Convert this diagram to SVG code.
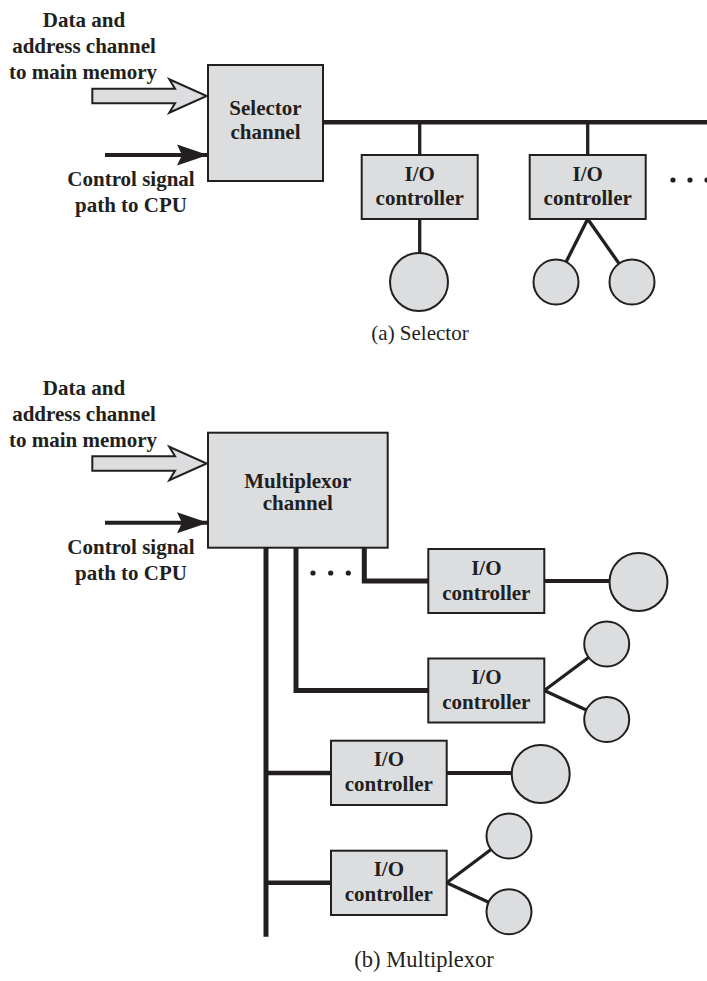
<svg xmlns="http://www.w3.org/2000/svg" width="707" height="981" viewBox="0 0 707 981">
<style>
.box{fill:#dcdddf;stroke:#231f20;stroke-width:2}
.dev{fill:#dcdddf;stroke:#231f20;stroke-width:2}
.t{font-family:"Liberation Serif","Times New Roman",serif;font-weight:bold;font-size:21px;fill:#231f20;text-anchor:middle}
.cap{font-family:"Liberation Serif","Times New Roman",serif;font-size:21px;fill:#231f20;text-anchor:middle}
.thick{stroke:#231f20;stroke-width:4.5;fill:none}
.thin{stroke:#231f20;stroke-width:3.3;fill:none}
.ctl{stroke:#231f20;stroke-width:4;fill:none}
.hollow{fill:#dcdddf;stroke:#231f20;stroke-width:2;stroke-linejoin:miter}
.dot{fill:#231f20}
</style>
<defs>
<marker id="ah" markerUnits="userSpaceOnUse" markerWidth="33" markerHeight="22" refX="32" refY="11" orient="auto">
<path d="M1,0.5 L32,11 L1,21.5 L6,11 Z" fill="#231f20"/>
</marker>
</defs>

<!-- ===== (a) Selector ===== -->
<g id="labels-a">
<text class="t" x="84" y="27">Data and</text>
<text class="t" x="84" y="53">address channel</text>
<text class="t" x="83" y="79">to main memory</text>
<text class="t" x="131" y="186">Control signal</text>
<text class="t" x="131" y="212">path to CPU</text>
</g>

<g id="connectors-a">
<polygon class="hollow" points="92.3,88.8 175,88.8 169.3,79.3 206.7,96 169.3,112.7 175,103.3 92.3,103.3"/>
<line class="ctl" x1="105" y1="155" x2="208" y2="155" marker-end="url(#ah)"/>
<line class="thick" x1="323" y1="122.3" x2="707" y2="122.3"/>
<line class="thin" x1="419.7" y1="122.3" x2="419.7" y2="155"/>
<line class="thin" x1="587.7" y1="122.3" x2="587.7" y2="155"/>
<line class="thin" x1="419.7" y1="219" x2="419.7" y2="260"/>
<line class="thin" x1="587.7" y1="219" x2="556" y2="282"/>
<line class="thin" x1="587.7" y1="219" x2="632" y2="282"/>
<circle class="dot" cx="673" cy="180" r="2.6"/>
<circle class="dot" cx="690" cy="180" r="2.6"/>
<circle class="dot" cx="707" cy="180" r="2.6"/>
</g>

<g id="selector-channel">
<rect class="box" x="208" y="65" width="115" height="116"/>
<text class="t" x="265.5" y="115">Selector</text>
<text class="t" x="265.5" y="139">channel</text>
</g>

<g id="a-io1">
<rect class="box" x="361.7" y="155" width="116" height="64"/>
<text class="t" x="419.7" y="180.7">I/O</text>
<text class="t" x="419.7" y="205">controller</text>
</g>
<g id="a-io2">
<rect class="box" x="529.7" y="155" width="116" height="64"/>
<text class="t" x="587.7" y="180.7">I/O</text>
<text class="t" x="587.7" y="205">controller</text>
</g>
<g id="a-dev1"><circle class="dev" cx="419" cy="282" r="29"/></g>
<g id="a-dev2"><circle class="dev" cx="556" cy="282" r="22.5"/></g>
<g id="a-dev3"><circle class="dev" cx="632" cy="282" r="22.5"/></g>

<text class="cap" x="420" y="340">(a) Selector</text>

<!-- ===== (b) Multiplexor ===== -->
<g id="labels-b">
<text class="t" x="84" y="394.5">Data and</text>
<text class="t" x="84" y="420.5">address channel</text>
<text class="t" x="83" y="446.5">to main memory</text>
<text class="t" x="131" y="553.5">Control signal</text>
<text class="t" x="131" y="579.5">path to CPU</text>
</g>

<g id="connectors-b">
<polygon class="hollow" points="92.3,456.3 175,456.3 169.3,446.8 206.7,463.5 169.3,480.2 175,470.8 92.3,470.8"/>
<line class="ctl" x1="105" y1="522.7" x2="208" y2="522.7" marker-end="url(#ah)"/>
<line class="thick" x1="266" y1="547" x2="266" y2="936.7" style="stroke-width:5"/>
<polyline class="thick" points="296,547 296,690.5 428.3,690.5" style="stroke-width:5"/>
<polyline class="thick" points="364.3,547 364.3,581 428.3,581" style="stroke-width:5"/>
<line class="thick" x1="266" y1="773" x2="331" y2="773"/>
<line class="thick" x1="266" y1="882.8" x2="331" y2="882.8"/>
<line class="thin" x1="544.3" y1="581" x2="610" y2="581" style="stroke-width:3.8"/>
<line class="thin" x1="544.3" y1="690.5" x2="606.7" y2="644"/>
<line class="thin" x1="544.3" y1="690.5" x2="606.7" y2="719.5"/>
<line class="thin" x1="446.7" y1="773" x2="512" y2="773" style="stroke-width:3.8"/>
<line class="thin" x1="446.7" y1="882.8" x2="509" y2="836"/>
<line class="thin" x1="446.7" y1="882.8" x2="509" y2="911.7"/>
<circle class="dot" cx="313" cy="573" r="2.6"/>
<circle class="dot" cx="330.7" cy="573" r="2.6"/>
<circle class="dot" cx="348.3" cy="573" r="2.6"/>
</g>

<g id="multiplexor-channel">
<rect class="box" x="208" y="432.7" width="179.7" height="115"/>
<text class="t" x="297.8" y="488">Multiplexor</text>
<text class="t" x="297.8" y="510">channel</text>
</g>

<g id="b-io1">
<rect class="box" x="428.3" y="549" width="116" height="64"/>
<text class="t" x="486.3" y="574.5">I/O</text>
<text class="t" x="486.3" y="599.5">controller</text>
</g>
<g id="b-io2">
<rect class="box" x="428.3" y="658.5" width="116" height="64"/>
<text class="t" x="486.3" y="684">I/O</text>
<text class="t" x="486.3" y="709">controller</text>
</g>
<g id="b-io3">
<rect class="box" x="331" y="740.7" width="115.7" height="64.3"/>
<text class="t" x="388.8" y="766.3">I/O</text>
<text class="t" x="388.8" y="790.8">controller</text>
</g>
<g id="b-io4">
<rect class="box" x="331" y="850.7" width="115.7" height="64.3"/>
<text class="t" x="388.8" y="876.3">I/O</text>
<text class="t" x="388.8" y="900.8">controller</text>
</g>
<g id="b-dev1"><circle class="dev" cx="638.5" cy="582" r="29"/></g>
<g id="b-dev2"><circle class="dev" cx="606.7" cy="644" r="22.5"/></g>
<g id="b-dev3"><circle class="dev" cx="606.7" cy="719.5" r="22.5"/></g>
<g id="b-dev4"><circle class="dev" cx="540.7" cy="774" r="29"/></g>
<g id="b-dev5"><circle class="dev" cx="509" cy="836" r="22.5"/></g>
<g id="b-dev6"><circle class="dev" cx="509" cy="911.7" r="22.5"/></g>

<text class="cap" x="424" y="966.5" style="font-size:22.5px">(b) Multiplexor</text>
</svg>
